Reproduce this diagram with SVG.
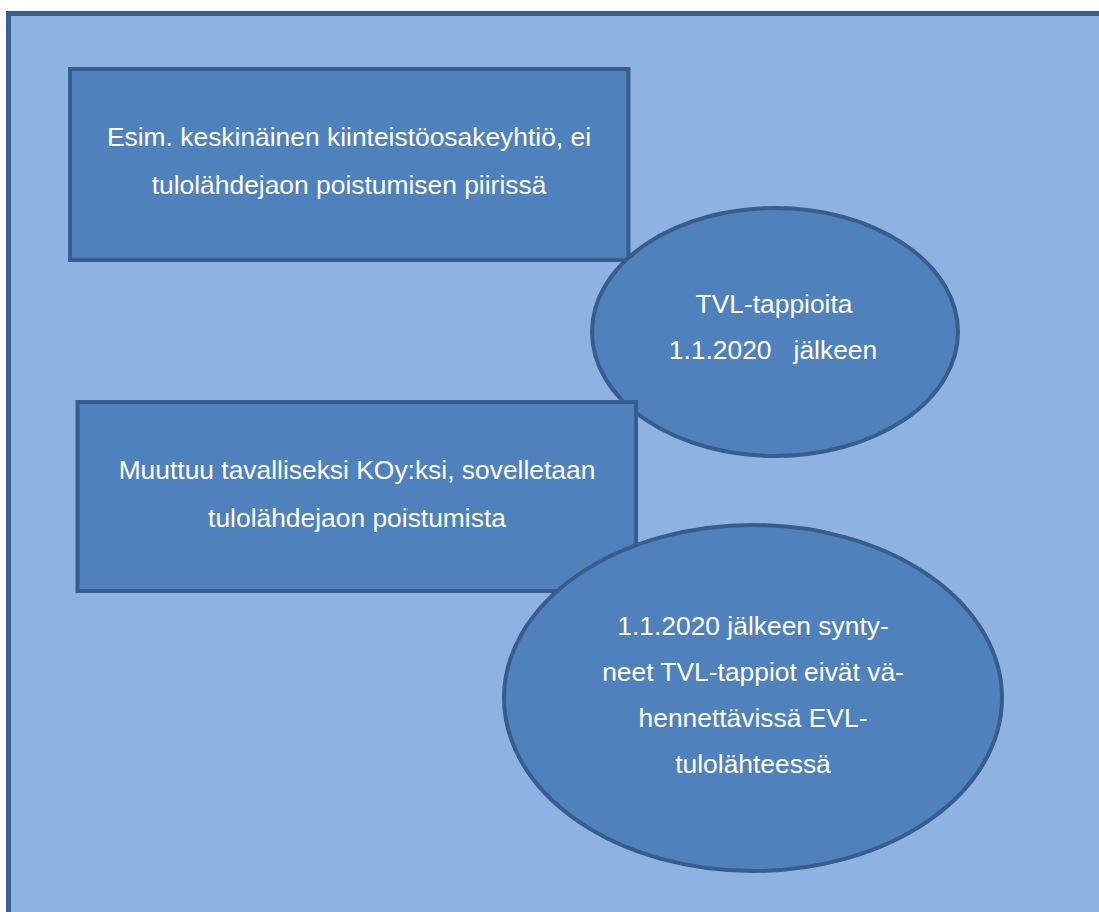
<svg xmlns="http://www.w3.org/2000/svg" width="1099" height="912" viewBox="0 0 1099 912">
  <style>
    .shape { fill: #4f81bd; stroke: #385d8a; stroke-width: 4; }
    .lbl { font-family: "Liberation Sans", Arial, sans-serif; font-size: 26.4px; fill: #ffffff; text-anchor: middle; white-space: pre; }
  </style>
  <rect width="1099" height="912" fill="#ffffff"/>
  <g id="background">
    <rect x="8.5" y="13.5" width="1200" height="1000" fill="#8eb3e2" stroke="#3a5f8c" stroke-width="5"/>
  </g>
  <g id="connectors"></g>
  <g id="node-rect1">
    <rect class="shape" x="70" y="69" width="558.5" height="191"/>
    <text class="lbl" x="349" y="146">Esim. keskinäinen kiinteistöosakeyhtiö, ei</text>
    <text class="lbl" x="349" y="194">tulolähdejaon poistumisen piirissä</text>
  </g>
  <g id="node-ellipse1">
    <ellipse class="shape" cx="775" cy="332" rx="183" ry="124"/>
    <text class="lbl" x="774" y="313">TVL-tappioita</text>
    <text class="lbl" x="773" y="359" xml:space="preserve">1.1.2020   jälkeen</text>
  </g>
  <g id="node-rect2">
    <rect class="shape" x="77.5" y="402" width="558.5" height="189"/>
    <text class="lbl" x="357" y="479">Muuttuu tavalliseksi KOy:ksi, sovelletaan</text>
    <text class="lbl" x="357" y="527">tulolähdejaon poistumista</text>
  </g>
  <g id="node-ellipse2">
    <ellipse class="shape" cx="753" cy="698" rx="249" ry="173"/>
    <text class="lbl" x="753" y="635">1.1.2020 jälkeen synty-</text>
    <text class="lbl" x="753" y="681">neet TVL-tappiot eivät vä-</text>
    <text class="lbl" x="753" y="727">hennettävissä EVL-</text>
    <text class="lbl" x="753" y="773">tulolähteessä</text>
  </g>
</svg>
